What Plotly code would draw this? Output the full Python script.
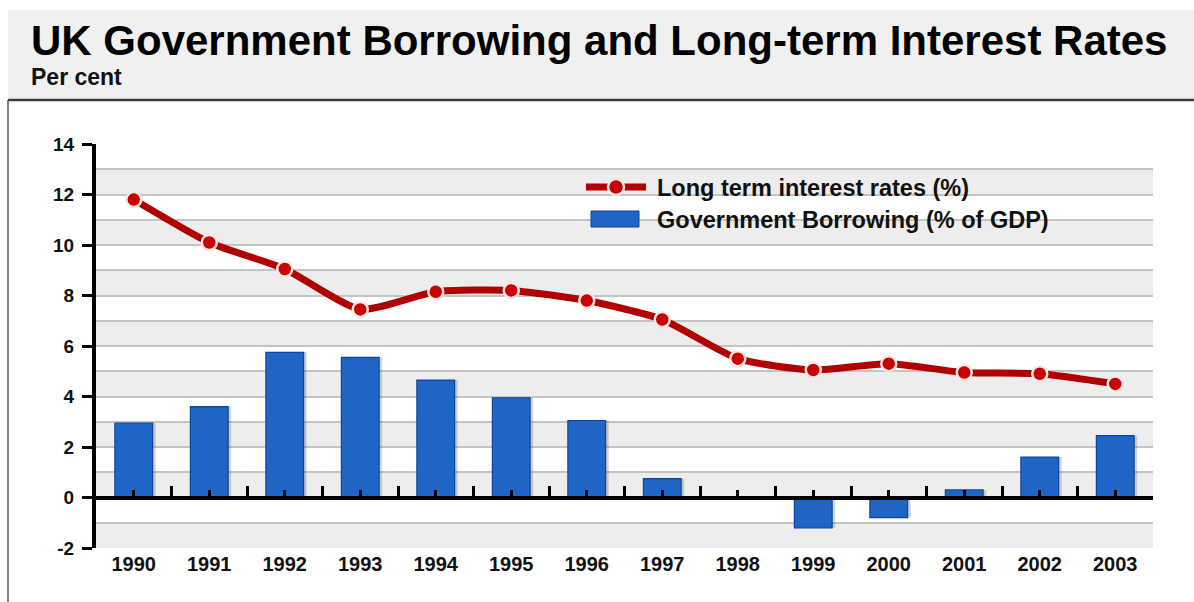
import plotly.graph_objects as go

years = ["1990", "1991", "1992", "1993", "1994", "1995", "1996",
         "1997", "1998", "1999", "2000", "2001", "2002", "2003"]
interest_rates = [11.8, 10.1, 9.05, 7.45, 8.15, 8.2, 7.8,
                  7.05, 5.5, 5.05, 5.3, 4.95, 4.9, 4.5]
borrowing = [2.95, 3.6, 5.75, 5.55, 4.65, 3.95, 3.05,
             0.75, 0.0, -1.2, -0.8, 0.3, 1.6, 2.45]
y_ticks = [-2, 0, 2, 4, 6, 8, 10, 12, 14]
y_labels = ["-2", "0", "2", "4", "6", "8", "10", "12", "14"]

W, H = 1194, 602
PL, PR, PT, PB = 96, 1153, 144, 548
FONT = "Liberation Sans, Arial, Helvetica, sans-serif"


def px(x):
    return (x - PL) / (PR - PL)


def py(y):
    return (PB - y) / (PB - PT)


fig = go.Figure()

# soft drop shadow behind the bars
fig.add_trace(go.Bar(
    x=years, y=borrowing, width=0.5, offset=-0.21,
    marker=dict(color="rgba(60,60,60,0.22)", line=dict(width=0)),
    showlegend=False, hoverinfo="skip",
))
fig.add_trace(go.Bar(
    x=years, y=borrowing, width=0.5, offset=-0.25,
    marker=dict(color="#1e65c6", line=dict(color="#0c469a", width=1.2)),
    name="Government Borrowing (% of GDP)",
    showlegend=False,
))
fig.add_trace(go.Scatter(
    x=years, y=interest_rates, mode="lines+markers",
    line=dict(color="#b00000", width=7, shape="spline", smoothing=0.6),
    marker=dict(size=15, color="#c80000", line=dict(color="#fde6e6", width=2.5)),
    name="Long term interest rates (%)",
    showlegend=False,
))

shapes = []
# header panel
shapes.append(dict(type="rect", xref="paper", yref="paper",
                   x0=px(8), x1=px(1194), y0=py(100), y1=py(10),
                   fillcolor="#f0f0f0", line=dict(width=0), layer="below"))
shapes.append(dict(type="line", xref="paper", yref="paper",
                   x0=px(8), x1=px(1194), y0=py(100), y1=py(100),
                   line=dict(color="#3a3a3a", width=2.5)))
shapes.append(dict(type="line", xref="paper", yref="paper",
                   x0=px(8), x1=px(8), y0=py(100), y1=py(602),
                   line=dict(color="#555555", width=1.5)))
# alternating bands in the plot area
for k in range(-1, 7):
    shapes.append(dict(type="rect", xref="paper", yref="y",
                       x0=0, x1=1, y0=2 * k, y1=2 * k + 1,
                       fillcolor="#ededed", line=dict(width=0), layer="below"))

# hand-built legend
lx0, lx1, ly1, ly2 = 586, 646, 187, 219
shapes.append(dict(type="line", xref="paper", yref="paper",
                   x0=px(lx0), x1=px(lx1), y0=py(ly1), y1=py(ly1),
                   line=dict(color="#b00000", width=7)))
cx = (lx0 + lx1) / 2
shapes.append(dict(type="circle", xref="paper", yref="paper",
                   x0=px(cx - 8), x1=px(cx + 8), y0=py(ly1 + 8), y1=py(ly1 - 8),
                   fillcolor="#c80000", line=dict(color="#fde6e6", width=2.5)))
shapes.append(dict(type="rect", xref="paper", yref="paper",
                   x0=px(591), x1=px(639), y0=py(ly2 + 8), y1=py(ly2 - 8),
                   fillcolor="#1e65c6", line=dict(color="#0c469a", width=1)))

annotations = [
    dict(text="<b>UK Government Borrowing and Long-term Interest Rates</b>",
         xref="paper", yref="paper", x=px(29), y=py(40), xanchor="left",
         yanchor="middle", showarrow=False,
         font=dict(family=FONT, size=42, color="#000000")),
    dict(text="<b>Per cent</b>",
         xref="paper", yref="paper", x=px(29), y=py(77), xanchor="left",
         yanchor="middle", showarrow=False,
         font=dict(family=FONT, size=23, color="#111111")),
    dict(text="<b>Long term interest rates (%)</b>",
         xref="paper", yref="paper", x=px(655), y=py(ly1 + 1), xanchor="left",
         yanchor="middle", showarrow=False,
         font=dict(family=FONT, size=23.5, color="#111111")),
    dict(text="<b>Government Borrowing (% of GDP)</b>",
         xref="paper", yref="paper", x=px(655), y=py(ly2 + 1), xanchor="left",
         yanchor="middle", showarrow=False,
         font=dict(family=FONT, size=23.5, color="#111111")),
]

fig.update_layout(
    width=W, height=H,
    margin=dict(l=PL, r=W - PR, t=PT, b=H - PB, pad=0),
    paper_bgcolor="#ffffff", plot_bgcolor="rgba(0,0,0,0)",
    font=dict(family=FONT, color="#111111"),
    shapes=shapes, annotations=annotations,
    barmode="overlay",
    xaxis=dict(type="category", range=[-0.5, 13.5], showgrid=False,
               showline=False, zeroline=False, ticks="",
               tickfont=dict(family=FONT, size=20, color="#111111"),
               ticklabelstandoff=2,
               tickprefix="<b>", ticksuffix="</b>"),
    xaxis2=dict(overlaying="x", anchor="free", position=0.125,
                range=[-0.5, 13.5], showgrid=False, zeroline=False,
                showline=True, linecolor="#000000", linewidth=4,
                tick0=-0.5, dtick=1, ticks="inside", ticklen=10,
                tickwidth=3, tickcolor="#000000", showticklabels=False,
                minor=dict(tick0=0, dtick=1, ticks="inside", ticklen=6,
                           tickwidth=3, tickcolor="#000000")),
    yaxis=dict(range=[-2, 14], tickvals=y_ticks,
               ticktext=[f"<b>{t}</b>" for t in y_labels],
               ticks="outside",
               ticklen=10, tickwidth=3, tickcolor="#000000",
               showline=True, linecolor="#000000", linewidth=4,
               zeroline=False, showgrid=True, gridcolor="#c4c4c4",
               gridwidth=1.5,
               minor=dict(dtick=1, showgrid=True, gridcolor="#c4c4c4",
                          gridwidth=1.5),
               tickfont=dict(family=FONT, size=19, color="#111111"),
               ticklabelstandoff=4),
)

# invisible point that brings the zero-line axis into the figure
fig.add_trace(go.Scatter(x=[0], y=[0], xaxis="x2", mode="markers",
                         marker=dict(opacity=0), showlegend=False,
                         hoverinfo="skip"))

fig.write_html("out.html")
